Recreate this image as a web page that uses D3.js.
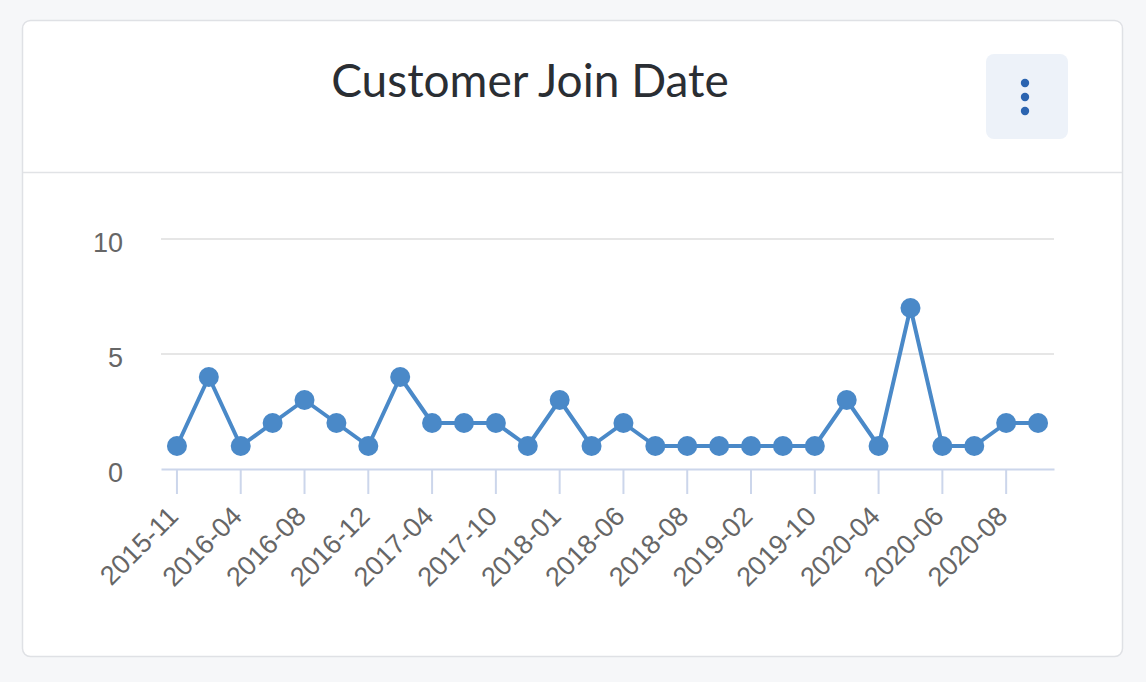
<!DOCTYPE html>
<html>
<head>
<meta charset="utf-8">
<script src="https://cdn.jsdelivr.net/npm/d3@7"></script>
<style>
  html, body { margin: 0; padding: 0; background: #f6f7f9; }
  svg { display: block; }
</style>
</head>
<body>
<svg id="chart" width="1146" height="682"></svg>
<script>
const title = "Customer Join Date";
const categories = [
  "2015-11","2016-01","2016-04","2016-06","2016-08","2016-10","2016-12","2017-02",
  "2017-04","2017-06","2017-10","2017-12","2018-01","2018-03","2018-06","2018-07",
  "2018-08","2018-11","2019-02","2019-06","2019-10","2020-01","2020-04","2020-05",
  "2020-06","2020-07","2020-08","2020-09"
];
const values = [1,4,1,2,3,2,1,4,2,2,2,1,3,1,2,1,1,1,1,1,1,3,1,7,1,1,2,2];
const yTicks = [0, 5, 10];
const yDomain = [0, 10];

const svg = d3.select("#chart");

// card
svg.append("rect").attr("x", 22.5).attr("y", 20.5).attr("width", 1100).attr("height", 636)
  .attr("rx", 8).attr("fill", "#ffffff").attr("stroke", "#dfe1e5").attr("stroke-width", 1.5);
svg.append("line").attr("x1", 23).attr("x2", 1122).attr("y1", 172.5).attr("y2", 172.5)
  .attr("stroke", "#e1e3e6").attr("stroke-width", 1.5);

// title
svg.append("text").attr("x", 530).attr("y", 97).attr("text-anchor", "middle")
  .attr("font-family", "Lato, 'Open Sans', sans-serif").attr("font-size", 46)
  .attr("fill", "#2a2e33").text(title);

// menu button
svg.append("rect").attr("x", 986).attr("y", 54).attr("width", 82).attr("height", 85)
  .attr("rx", 8).attr("fill", "#edf2f9");
svg.selectAll("circle.dot").data([83, 97, 111]).join("circle").attr("class", "dot")
  .attr("cx", 1025).attr("cy", d => d).attr("r", 4.2).attr("fill", "#2b64b0");

// scales
const x = d3.scaleBand().domain(categories).range([161, 1054]);
const y = d3.scaleLinear().domain(yDomain).range([469, 239]);
const cx = d => x(d) + x.bandwidth() / 2;

const g = svg.append("g");

// grid
g.append("g").selectAll("line").data(yTicks.filter(t => t > 0)).join("line")
  .attr("x1", 161).attr("x2", 1054).attr("y1", d => y(d)).attr("y2", d => y(d))
  .attr("stroke", "#e6e6e6").attr("stroke-width", 2);

// y axis labels
const yAxis = d3.axisLeft(y).tickValues(yTicks).tickSize(0).tickPadding(0);
const ya = g.append("g").attr("transform", "translate(123,4)").call(yAxis);
ya.select(".domain").remove();
ya.selectAll("text").attr("font-family", "'Liberation Sans', Arial, sans-serif")
  .attr("font-size", 27).attr("fill", "#666666");

// x axis
const xTickVals = categories.filter((c, i) => i % 2 === 0);
const xAxis = d3.axisBottom(x).tickValues(xTickVals).tickSize(25).tickSizeOuter(0).tickPadding(0);
const xa = g.append("g").attr("transform", "translate(0,469)").call(xAxis);
xa.select(".domain").attr("stroke", "#ccd6eb").attr("stroke-width", 2);
xa.selectAll(".tick line").attr("stroke", "#ccd6eb").attr("stroke-width", 2);
xa.selectAll(".tick text")
  .attr("font-family", "'Liberation Sans', Arial, sans-serif")
  .attr("font-size", 27).attr("fill", "#666666")
  .attr("text-anchor", "end").attr("dy", null)
  .attr("transform", "translate(3,49) rotate(-45)")
  .attr("y", 0).attr("x", 0);

// line + markers
const color = "#4a89c8";
const line = d3.line().x((d, i) => cx(categories[i])).y(d => y(d));
g.append("path").datum(values).attr("d", line).attr("fill", "none")
  .attr("stroke", color).attr("stroke-width", 4).attr("stroke-linejoin", "round");
g.append("g").selectAll("circle").data(values).join("circle")
  .attr("cx", (d, i) => cx(categories[i])).attr("cy", d => y(d)).attr("r", 10)
  .attr("fill", color);
</script>
</body>
</html>
